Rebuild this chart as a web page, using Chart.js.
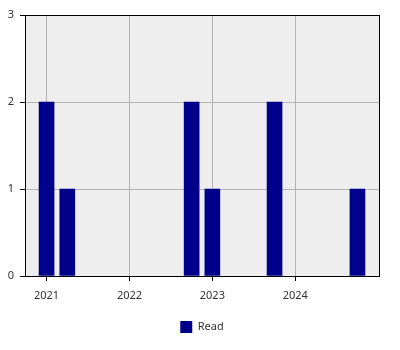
<!DOCTYPE html>
<html>
<head>
<meta charset="utf-8">
<script src="https://cdn.jsdelivr.net/npm/chart.js@4/dist/chart.umd.min.js"></script>
<style>
html,body{margin:0;padding:0;background:#fff;}
#wrap{width:400px;height:350px;}
</style>
</head>
<body>
<div id="wrap"><canvas id="chart" width="400" height="350"></canvas></div>
<script>
// quarters with reads, and how many
const quarters = ['2021-Q1', '2021-Q2', '2022-Q4', '2023-Q1', '2023-Q4', '2024-Q4'];
const reads = [2, 1, 2, 1, 2, 1];
const yearTicks = [2021, 2022, 2023, 2024];
const yTicks = [0, 1, 2, 3];

function quarterToX(q){
    let parts = q.split('-Q');
    return parseInt(parts[0]) + (parseInt(parts[1]) - 1) / 4;
}

const points = quarters.map(function(q, i){
    return {x: quarterToX(q), y: reads[i]};
});

const plotBg = {
    id: 'plotBg',
    beforeDraw(chart){
        const c = chart.ctx, a = chart.chartArea;
        c.save();
        c.fillStyle = '#eeeeee';
        c.fillRect(a.left, a.top, a.right - a.left, a.bottom - a.top);
        c.restore();
    },
    afterDraw(chart){
        const c = chart.ctx, a = chart.chartArea;
        c.save();
        c.strokeStyle = '#000';
        c.lineWidth = 1;
        c.strokeRect(a.left + 0.5, a.top + 0.5, a.right - a.left, a.bottom - a.top);
        c.restore();
    }
};

const ctx = document.getElementById('chart').getContext('2d');
let myChart = new Chart(ctx, {
    type: 'bar',
    data: {
        datasets: [{
            label: 'Read',
            data: points,
            backgroundColor: '#00008b',
            borderWidth: 0,
            barThickness: 15
        }]
    },
    options: {
        responsive: false,
        animation: false,
        layout: {padding: {top: 15, right: 21, left: 0, bottom: 7}},
        scales: {
            x: {
                type: 'linear',
                min: 2020.74,
                max: 2025.01,
                offset: false,
                afterBuildTicks(scale){
                    scale.ticks = yearTicks.map(function(v){ return {value: v}; });
                },
                afterFit(scale){ scale.height = 35; },
                ticks: {
                    color: '#333',
                    font: {family: 'Noto Sans', size: 11},
                    maxRotation: 0,
                    padding: 8,
                    callback: function(v){ return String(v); }
                },
                grid: {color: '#b4b4b4', tickColor: '#000', tickLength: 5, offset: false},
                border: {display: false}
            },
            y: {
                min: 0,
                max: 3,
                afterBuildTicks(scale){
                    scale.ticks = yTicks.map(function(v){ return {value: v}; });
                },
                afterFit(scale){ scale.width = 25; },
                ticks: {
                    color: '#333',
                    font: {family: 'Noto Sans', size: 11},
                    padding: 6
                },
                grid: {color: '#b4b4b4', tickColor: '#000', tickLength: 5},
                border: {display: false}
            }
        },
        plugins: {
            legend: {
                position: 'bottom',
                fullSize: false,
                labels: {
                    boxWidth: 12,
                    boxHeight: 12,
                    color: '#333',
                    font: {family: 'Noto Sans', size: 11},
                    padding: 10
                }
            },
            tooltip: {enabled: false}
        }
    },
    plugins: [plotBg]
});
</script>
</body>
</html>
